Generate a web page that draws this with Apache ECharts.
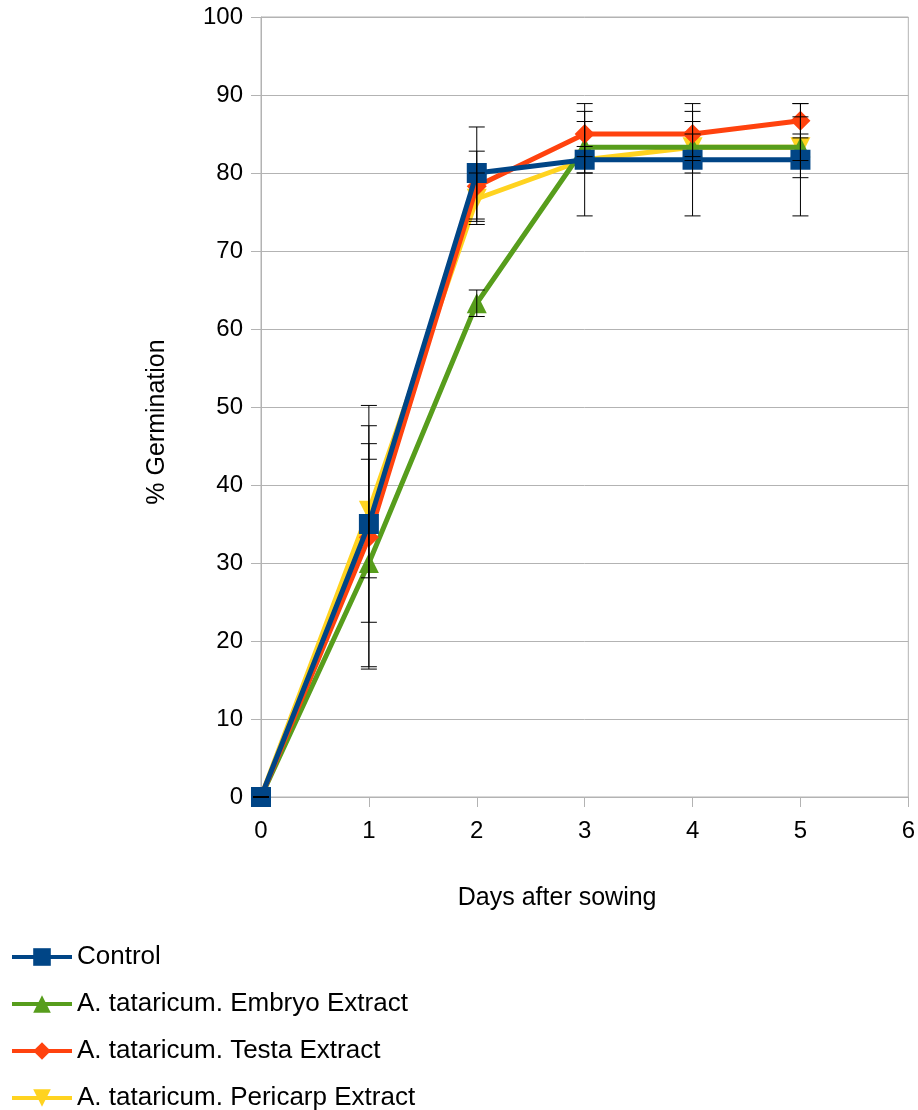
<!DOCTYPE html>
<html>
<head>
<meta charset="utf-8">
<script src="https://cdn.jsdelivr.net/npm/echarts@6/dist/echarts.min.js"></script>
<style>
  html, body { margin: 0; padding: 0; background: #fff; }
  #main { width: 918px; height: 1110px; }
</style>
</head>
<body>
<div id="main"></div>
<script>
const days = [0, 1, 2, 3, 4, 5]

// mean % germination
const control = [0, 35, 80, 81.7, 81.7, 81.7]
const embryo = [0, 30, 63.3, 83.3, 83.3, 83.3]
const testa = [0, 33.3, 78.3, 85, 85, 86.7]
const pericarp = [0, 36.7, 76.7, 81.7, 83.3, 83.3]

// error bar half widths
const controlErr = [0, 12.6, 5.9, 7.2, 7.2, 7.2]
const embryoErr = [0, 13.3, 1.7, 3.3, 3.3, 3.9]
const testaErr = [0, 16.9, 4.5, 2.9, 2.9, 2.2]
const pericarpErr = [0, 8.6, 3.3, 1.7, 1.7, 1.7]

const xTicks = [0, 1, 2, 3, 4, 5, 6]

const names = ['Control', 'A. tataricum. Embryo Extract', 'A. tataricum. Testa Extract', 'A. tataricum. Pericarp Extract']
const colors = ['#004586', '#579d1c', '#ff420e', '#ffd320']

const font = "'Liberation Sans', Arial, sans-serif"
const gray = '#b3b3b3'

const chart = echarts.init(document.getElementById('main'))

function lineSeries (name, vals, color, symbol, size, z) {
  return {
    type: 'line',
    name: name,
    data: days.map((d, i) => [d, vals[i]]),
    symbol: symbol,
    symbolSize: size,
    color: color,
    lineStyle: { width: 5, color: color },
    itemStyle: { color: color },
    z: z
  }
}

function errSeries (vals, errs) {
  return {
    type: 'custom',
    name: 'err',
    z: 20,
    silent: true,
    encode: { x: 0, y: 1 },
    data: days.map((d, i) => [d, vals[i], errs[i]]),
    renderItem: function (params, api) {
      const x = api.value(0)
      const y = api.value(1)
      const e = api.value(2)
      const top = api.coord([x, y + e])
      const bot = api.coord([x, y - e])
      const w = 8
      const st = { stroke: '#000', lineWidth: 1 }
      return {
        type: 'group',
        children: [
          { type: 'line', shape: { x1: top[0], y1: top[1], x2: bot[0], y2: bot[1] }, style: st },
          { type: 'line', shape: { x1: top[0] - w, y1: top[1], x2: top[0] + w, y2: top[1] }, style: st },
          { type: 'line', shape: { x1: bot[0] - w, y1: bot[1], x2: bot[0] + w, y2: bot[1] }, style: st }
        ]
      }
    }
  }
}

const option = {
  animation: false,
  textStyle: { fontFamily: font },
  grid: {
    left: 261, right: 8, top: 17, bottom: 313,
    show: true, borderColor: gray, borderWidth: 1
  },
  legend: {
    data: names,
    orient: 'vertical',
    left: 10,
    top: 944,
    height: 200,
    padding: 0,
    itemWidth: 60,
    itemHeight: 22,
    itemGap: 21,
    itemTextGap: 10,
    lineStyle: { width: 4 },
    textStyle: { fontSize: 26, color: '#000', fontFamily: font }
  },
  xAxis: {
    type: 'value',
    min: 0,
    max: 6,
    interval: 1,
    name: 'Days after sowing',
    nameLocation: 'middle',
    nameGap: 89,
    nameTextStyle: { fontSize: 25, color: '#000', fontFamily: font, padding: [0, 55, 0, 0] },
    axisLine: { show: true, lineStyle: { color: gray, width: 1 } },
    axisTick: { show: true, length: 10, lineStyle: { color: gray } },
    axisLabel: {
      fontSize: 24, color: '#000', margin: 22,
      formatter: v => (xTicks.indexOf(v) >= 0 ? String(v) : '')
    },
    splitLine: { show: false }
  },
  yAxis: {
    type: 'value',
    min: 0,
    max: 100,
    interval: 10,
    name: '% Germination',
    nameLocation: 'middle',
    nameGap: 91,
    nameTextStyle: { fontSize: 25, color: '#000', fontFamily: font, padding: [0, 30, 0, 0] },
    axisLine: { show: true, lineStyle: { color: gray, width: 1 } },
    axisTick: { show: true, length: 10, lineStyle: { color: gray } },
    axisLabel: { fontSize: 24, color: '#000', margin: 18 },
    splitLine: { show: true, lineStyle: { color: gray, width: 1 } }
  },
  series: [
    lineSeries(names[3], pericarp, colors[3], 'path://M0,0 L10,0 L5,9 Z', 20, 2),
    lineSeries(names[1], embryo, colors[1], 'triangle', 20, 3),
    lineSeries(names[2], testa, colors[2], 'diamond', 20, 4),
    lineSeries(names[0], control, colors[0], 'rect', 20, 5),
    errSeries(pericarp, pericarpErr),
    errSeries(embryo, embryoErr),
    errSeries(testa, testaErr),
    errSeries(control, controlErr)
  ]
}

chart.setOption(option)
</script>
</body>
</html>
